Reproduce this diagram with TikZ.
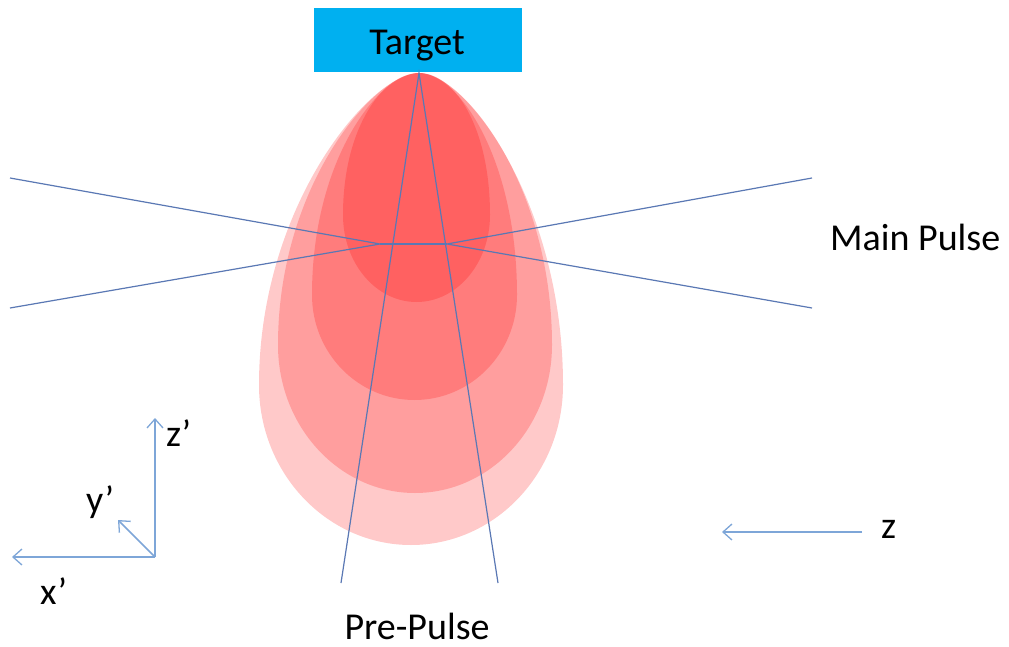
\documentclass[tikz,border=0pt]{standalone}
\usepackage{fontspec}
\setmainfont{Carlito}
\usetikzlibrary{arrows.meta}
\definecolor{targetblue}{HTML}{00B0F0}
\definecolor{beamline}{HTML}{5A78B4}
\definecolor{axisblue}{HTML}{7EA6D8}
\tikzset{
  lbl/.style={font=\fontsize{38}{45}\selectfont, text=black, inner sep=0pt},
  beam/.style={draw=beamline, line width=1.2pt},
  axis/.style={draw=axisblue, line width=1.5pt, -{Straight Barb[length=9pt,width=16pt,line width=1.3pt]}},
  plume/.style={fill=red, fill opacity=0.21, draw=none}
}
% teardrop with a rounded apex at (tip):
% #1 left x, #2 right x, #3 y of widest part, #4 bottom y,
% #5 horizontal pull at the apex, #6 y of the shoulder control point
\newcommand{\plumedrop}[6]{%
  \path[plume] (tip) .. controls ([xshift=-#5pt]tip) and (#1,#6) .. (#1,#3)
    .. controls (#1,{#3+0.5523*(#4-#3)}) and ({(#1+#2)/2-0.5523*(#2-#1)/2},#4) .. ({(#1+#2)/2},#4)
    .. controls ({(#1+#2)/2+0.5523*(#2-#1)/2},#4) and (#2,{#3+0.5523*(#4-#3)}) .. (#2,#3)
    .. controls (#2,#6) and ([xshift=#5pt]tip) .. (tip) -- cycle;}
\begin{document}
\begin{tikzpicture}[x=1pt,y=-1pt]
\useasboundingbox (0,0) rectangle (1009,647);
\fill[white] (0,0) rectangle (1009,647);

\coordinate (tip) at (419,73);

% expanding plasma plumes
\plumedrop{259}{563}{385}{545}{48}{205}
\plumedrop{278}{552}{345}{493}{44}{185}
\plumedrop{312}{517}{295}{400}{40}{160}
\plumedrop{343}{490}{215}{302}{36}{128}

% target
\node[fill=targetblue, minimum width=208pt, minimum height=64pt, inner sep=0pt, anchor=north west] (target) at (314,8) {};
\node[lbl, anchor=base] (tlabel) at (417,55) {Target};

% pre-pulse beam
\coordinate (ppL) at (341,583);
\coordinate (ppR) at (498,583);
\draw[beam] (ppL) -- (tip) -- (ppR);

% main pulse beam
\coordinate (mpUL) at (10,178);
\coordinate (mpLL) at (10,308);
\coordinate (mpUR) at (812,178);
\coordinate (mpLR) at (812,308);
\coordinate (fL) at (380,244);
\coordinate (fR) at (447,244);
\draw[beam] (mpUL) -- (fL) -- (mpLL);
\draw[beam] (mpUR) -- (fR) -- (mpLR);
\draw[beam] (fL) -- (fR);

\node[lbl, anchor=base west] (mp) at (830,250) {Main Pulse};
\node[lbl, anchor=base] (pp) at (417,639) {Pre-Pulse};

% target frame axes
\coordinate (o) at (155,557);
\coordinate (zp) at (155,418);
\coordinate (xp) at (12,557);
\coordinate (yp) at (118,520);
\draw[axis] (o) -- (zp);
\draw[axis] (o) -- (xp);
\draw[axis] (o) -- (yp);
\node[lbl, anchor=base west] (zpl) at (166,446) {z’};
\node[lbl, anchor=base west] (ypl) at (86,512) {y’};
\node[lbl, anchor=base west] (xpl) at (40,604) {x’};

% lab axis
\coordinate (z0) at (862,532);
\coordinate (z1) at (722,532);
\draw[axis] (z0) -- (z1);
\node[lbl, anchor=base west] (zl) at (881,538) {z};
\end{tikzpicture}
\end{document}
